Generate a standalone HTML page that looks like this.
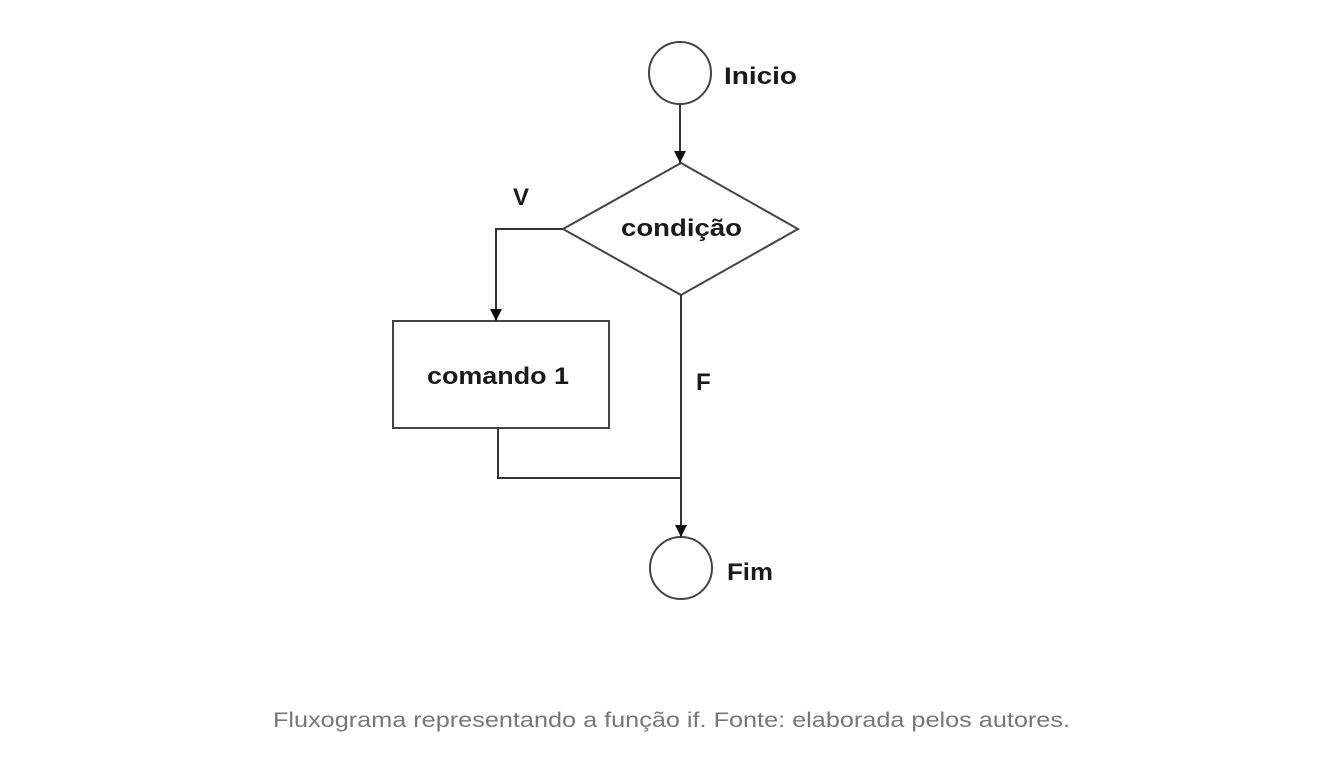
<!DOCTYPE html>
<html><head><meta charset="utf-8"><style>
html,body{margin:0;padding:0;background:#fff;width:1342px;height:780px;overflow:hidden}
svg{display:block}
</style></head><body>
<svg width="1342" height="780" viewBox="0 0 1342 780" xmlns="http://www.w3.org/2000/svg">
<defs>
<marker id="a" markerWidth="12" markerHeight="12" refX="10" refY="5" orient="auto" markerUnits="userSpaceOnUse" viewBox="0 0 10 10">
<path d="M0,0 L10,5 L0,10 z" fill="#111"/>
</marker>
</defs>
<g fill="none" stroke="#444" stroke-width="2">
<circle cx="680" cy="73" r="31"/>
<circle cx="681" cy="568" r="31"/>
<polygon points="681,163 798,229 681,295 563,229"/>
<rect x="393" y="321" width="216" height="107"/>
</g>
<g fill="none" stroke="#333" stroke-width="2">
<line x1="680" y1="104" x2="680" y2="163" marker-end="url(#a)"/>
<polyline points="563,229 496,229 496,321" marker-end="url(#a)"/>
<line x1="681" y1="295" x2="681" y2="478"/>
<polyline points="498,428 498,478 681,478"/>
<line x1="681" y1="478" x2="681" y2="537" marker-end="url(#a)"/>
</g>
<g font-family="Liberation Sans, Arial, sans-serif" font-weight="bold" fill="#1a1a1a" font-size="24" lengthAdjust="spacingAndGlyphs">
<text x="724" y="84" textLength="73" lengthAdjust="spacingAndGlyphs">Inicio</text>
<text x="621" y="236" textLength="121" lengthAdjust="spacingAndGlyphs">condição</text>
<text x="513" y="205">V</text>
<text x="427" y="384" textLength="142" lengthAdjust="spacingAndGlyphs">comando 1</text>
<text x="696" y="390">F</text>
<text x="727" y="580" textLength="46" lengthAdjust="spacingAndGlyphs">Fim</text>
</g>
<text x="273" y="727" font-family="Liberation Sans, Arial, sans-serif" font-size="21" fill="#777" textLength="797" lengthAdjust="spacingAndGlyphs">Fluxograma representando a função if. Fonte: elaborada pelos autores.</text>
</svg>
</body></html>
